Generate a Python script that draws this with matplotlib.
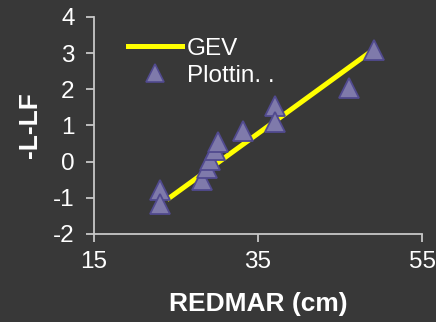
import matplotlib
matplotlib.use("Agg")
import matplotlib.pyplot as plt
from matplotlib.lines import Line2D

# Observed annual maxima (REDMAR, cm) and their plotting-position reduced variate
obs_x = [23.1, 23.1, 28.2, 28.8, 29.1, 29.8, 30.1, 33.2, 37.1, 37.1, 46.1, 49.1]
obs_y = [-0.77, -1.18, -0.52, -0.17, 0.05, 0.33, 0.55, 0.84, 1.53, 1.11, 2.04, 3.09]

# Fitted GEV curve
gev_x = [23.9, 49.1]
gev_y = [-1.05, 3.10]

x_ticks = [15, 35, 55]
y_ticks = [-2, -1, 0, 1, 2, 3, 4]

bg = "#383838"
fg = "#ffffff"
axis_col = "#c8c8c8"

plt.rcParams["font.family"] = ["Liberation Sans", "DejaVu Sans"]
plt.rcParams["axes.unicode_minus"] = False

fig = plt.figure(figsize=(4.36, 3.22), dpi=100, facecolor=bg)
ax = fig.add_axes([0.2156, 0.2733, 0.7524, 0.674])
ax.set_facecolor(bg)

ax.plot(gev_x, gev_y, color="#ffff00", lw=3.6, solid_capstyle="butt", zorder=2)
ax.plot(obs_x, obs_y, ls="none", marker="^", ms=15, mfc="#7f7aab",
        mec="#514a8f", mew=1.3, zorder=3)

ax.set_xlim(15, 55)
ax.set_ylim(-2, 4)
ax.set_xticks(x_ticks)
ax.set_yticks(y_ticks)

for s in ("top", "right"):
    ax.spines[s].set_visible(False)
for s in ("left", "bottom"):
    ax.spines[s].set_color(axis_col)
    ax.spines[s].set_linewidth(1.3)

ax.tick_params(axis="both", colors=axis_col, labelcolor=fg, labelsize=17.5,
               length=6, width=1.3, direction="out")
ax.tick_params(axis="y", pad=8)
ax.tick_params(axis="x", pad=6)

ax.set_xlabel("REDMAR (cm)", color=fg, fontsize=19, fontweight="bold", labelpad=14)
ax.set_ylabel("-L-LF", color=fg, fontsize=19, fontweight="bold", labelpad=8)

handles = [
    Line2D([], [], color="#ffff00", lw=3.6),
    Line2D([], [], ls="none", marker="^", ms=13, mfc="#7f7aab", mec="#514a8f", mew=1.2),
]
leg = ax.legend(handles, ["GEV", "Plottin. ."], loc="upper left",
                bbox_to_anchor=(0.075, 0.95), frameon=False, fontsize=17.5,
                labelcolor=fg, handlelength=2.2, handletextpad=0.2,
                labelspacing=0.22, borderaxespad=0)

fig.savefig("out.png", dpi=100, facecolor=bg)
